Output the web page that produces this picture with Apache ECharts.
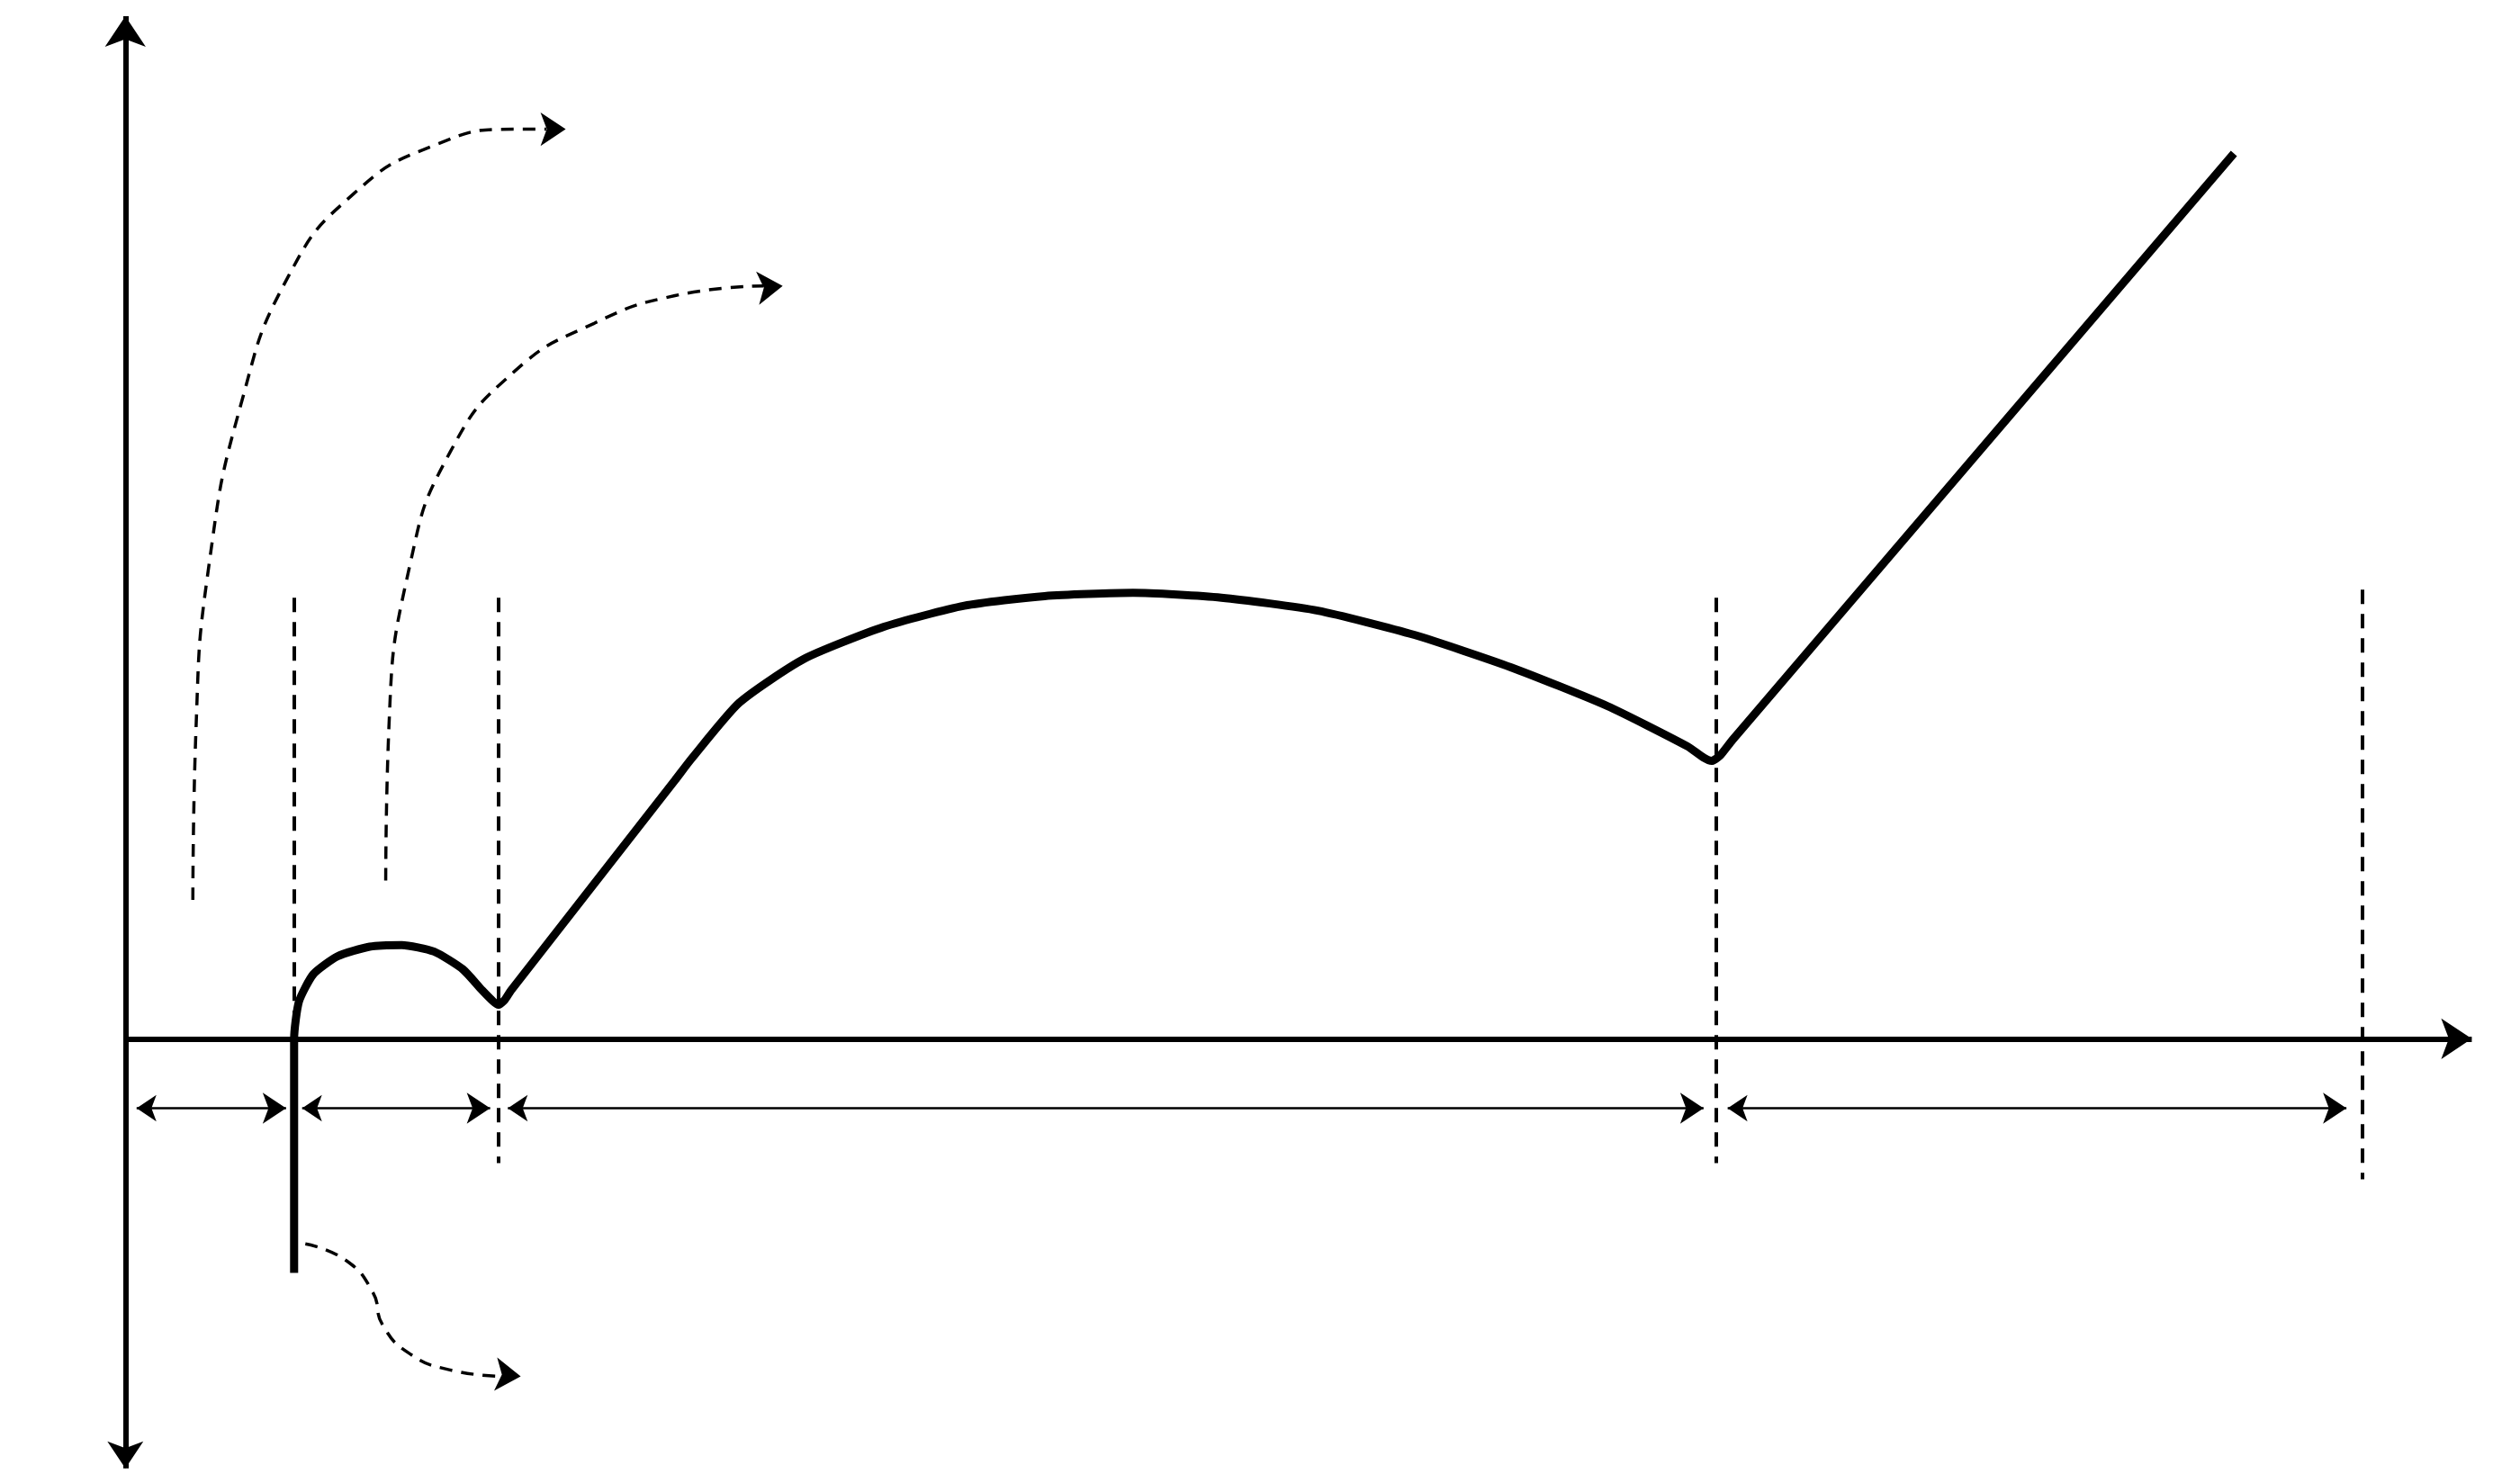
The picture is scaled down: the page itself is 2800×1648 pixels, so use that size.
<!DOCTYPE html>
<html>
<head>
<meta charset="utf-8">
<script src="https://cdn.jsdelivr.net/npm/echarts@6/dist/echarts.min.js"></script>
<style>html,body{margin:0;background:#fff}#c{width:2800px;height:1648px}</style>
</head>
<body>
<div id="c"></div>
<script>
// Nyquist sketch, data units: origin where the axes cross
var curve = [[105,-145],[105,0],[108,23],[117,40],[132,51],[152,57],[172,58],[192,54],[210,43],[222,30],[229,23],[232,21],[236,24],[240,30],
  [342,160],[352,173],[382,208],[422,235],[472,255],[522,268],[572,274],[627,276],[682,273],[742,265],[802,250],[862,230],[922,206],
  [972,181],[982,174],[987,172],[992,175],[1000,185],[1312,548]];
var dividers = [[105,273,-77],[232,273,-77],[990,273,-77],[1392,278,-87]];
var spans = [[7,100],[110,227],[238,982],[997,1382]];
var spanY = -43;
var rLabels = [['R','I',49],['R','2',159],['R','3',590],['R','4',1182]];
var ohmicPath = [[42,86],[44,193],[52,293],[72,393],[102,473],[142,523],[192,553],[242,563],[262,563]];
var chargePath = [[162,98],[164,193],[177,293],[202,363],[242,413],[292,443],[342,460],[397,466]];
var inductPath = [[112,-127],[137,-137],[154,-157],[160,-177],[177,-195],[202,-205],[234,-209]];

var font = 'Open Sans';
var fs = 42;
var series = [];

// axes
series.push({type:'lines', coordinateSystem:'cartesian2d', symbol:['arrow','arrow'], symbolSize:[30,34],
  lineStyle:{color:'#000', width:6, opacity:1},
  data:[{coords:[[0,-266],[0,633]]}], silent:true});
series.push({type:'lines', coordinateSystem:'cartesian2d', symbol:['none','arrow'], symbolSize:[30,34],
  lineStyle:{color:'#000', width:6, opacity:1},
  data:[{coords:[[0,0],[1460,0]]}], silent:true});

// dashed dividers
series.push({type:'lines', coordinateSystem:'cartesian2d', lineStyle:{color:'#000', width:4, type:[16,11], opacity:1},
  data: dividers.map(function(d){return {coords:[[d[0],d[1]],[d[0],d[2]]]};}), silent:true});

// dimension arrows
series.push({type:'lines', coordinateSystem:'cartesian2d', symbol:['arrow','arrow'], symbolSize:[22,26],
  lineStyle:{color:'#000', width:2.5, opacity:1},
  data: spans.map(function(s){return {coords:[[s[0],spanY],[s[1],spanY]]};}), silent:true});

// main curve
series.push({type:'line', data:curve, showSymbol:false, smooth:0.2, lineStyle:{color:'#000', width:9}, silent:true});

// dashed curved pointers
[ohmicPath, chargePath, inductPath].forEach(function(p){
  series.push({type:'line', data:p, showSymbol:false, smooth:true, lineStyle:{color:'#000', width:3.5, type:[14,10]}, silent:true});
  var a = p[p.length-2], b = p[p.length-1];
  series.push({type:'lines', coordinateSystem:'cartesian2d', symbol:['none','arrow'], symbolSize:[24,28],
    lineStyle:{color:'#000', width:0, opacity:1},
    data:[{coords:[a,[b[0]+12,b[1]]]}], silent:true});
});

// text labels
var rich = {m:{fontFamily:font, fontSize:fs, color:'#111'}, s:{fontFamily:font, fontSize:28, color:'#111', padding:[24,0,0,0]},
  big:{fontFamily:font, fontSize:62, color:'#111'}, bs:{fontFamily:font, fontSize:40, color:'#111', padding:[30,0,0,0]}};
function txt(x, y, text, align){
  return {value:[x,y], label:{show:true, position:'inside', align:align, verticalAlign:'middle', formatter:text,
    color:'#111', fontFamily:font, fontSize:fs, lineHeight:64}};
}
var labels = [
  txt(284,563,'Region of Ohmic Losses','left'),
  txt(416,466,'Charge transfer limitations and double\nlayer effects, 100Hz to 100mHz','left'),
  txt(643,78,'Effects of diffusion inside the porous\nelectrode, 100mHz to 100 μhz','center'),
  txt(1188,63,'Effects of diffusion outside\nthe electrodes,\n<100 μHz region','center'),
  txt(249,-209,'Inductive Region, mostly >100Hz','left')
];
rLabels.forEach(function(r){
  labels.push({value:[r[2],-97], label:{show:true, position:'inside', align:'center', verticalAlign:'middle',
    formatter:'{m|'+r[0]+'}{s|'+r[1]+'}', rich:rich}});
});
labels.push({value:[1425,-52], label:{show:true, position:'inside', align:'left', verticalAlign:'middle',
  formatter:'{big|Z}{bs|Re}', rich:rich}});
labels.push({value:[-46,598], label:{show:true, position:'inside', align:'center', verticalAlign:'middle',
  formatter:'{big|-Z}{bs|Im}', rich:rich, rotate:90}});

series.push({type:'scatter', data:labels, symbolSize:1, itemStyle:{opacity:0}, silent:true});

var chart = echarts.init(document.getElementById('c'));
chart.setOption({
  animation:false,
  backgroundColor:'#fff',
  grid:{left:0, right:0, top:0, bottom:0},
  xAxis:{type:'value', min:-78, max:1490, show:false},
  yAxis:{type:'value', min:-275, max:643, show:false},
  series:series
});
</script>
</body>
</html>
